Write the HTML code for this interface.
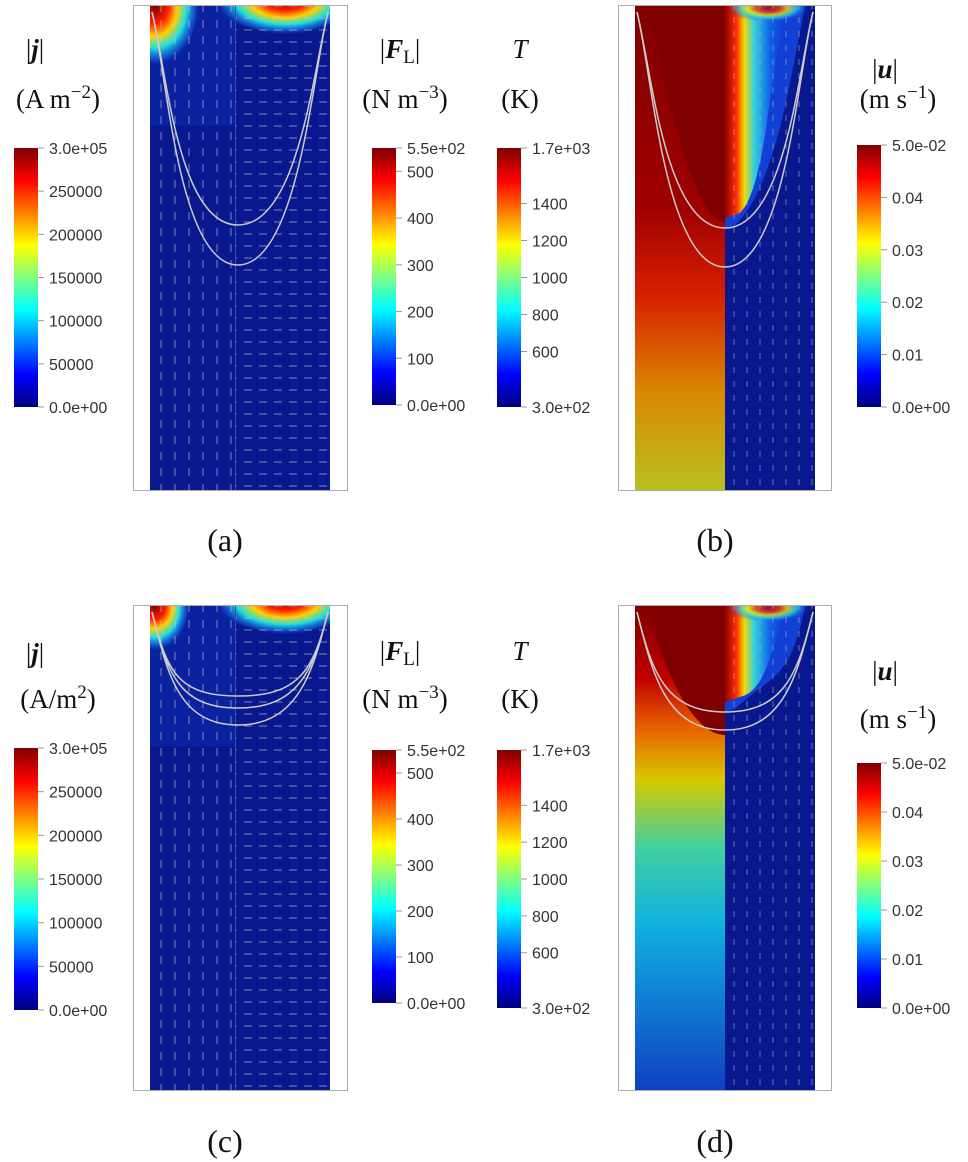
<!DOCTYPE html>
<html><head><meta charset="utf-8"><style>
html,body{margin:0;padding:0;background:#fff;width:968px;height:1162px;overflow:hidden}
svg{display:block}
.tk{font-family:"Liberation Sans",sans-serif;font-size:16px;fill:#333}
.tt{font-family:"Liberation Serif",serif;font-size:27px;fill:#111}
.cap{font-family:"Liberation Serif",serif;font-size:32px;fill:#111}
</style></head><body>
<svg id="fig" width="968" height="1162" viewBox="0 0 968 1162">
<defs>
<linearGradient id="jet" x1="0" y1="1" x2="0" y2="0">
<stop offset="0" stop-color="#00007f"/><stop offset="0.125" stop-color="#0000ff"/><stop offset="0.375" stop-color="#00ffff"/><stop offset="0.625" stop-color="#ffff00"/><stop offset="0.875" stop-color="#ff0000"/><stop offset="1" stop-color="#7f0000"/>
</linearGradient>
<linearGradient id="tb" x1="0" y1="0" x2="0" y2="1">
<stop offset="0" stop-color="#800000"/><stop offset="0.42" stop-color="#a00000"/><stop offset="0.6" stop-color="#d82000"/><stop offset="0.8" stop-color="#d88a00"/><stop offset="1" stop-color="#b8c020"/>
</linearGradient>
<linearGradient id="td" x1="0" y1="0" x2="0" y2="1">
<stop offset="0" stop-color="#800000"/><stop offset="0.15" stop-color="#c00000"/><stop offset="0.25" stop-color="#e86000"/><stop offset="0.36" stop-color="#d8c800"/><stop offset="0.5" stop-color="#40d0a0"/><stop offset="0.66" stop-color="#10b0e0"/><stop offset="1" stop-color="#1040c0"/>
</linearGradient>
<radialGradient id="hot"><stop offset="0" stop-color="#800000"/><stop offset="0.3" stop-color="#ff2000"/><stop offset="0.5" stop-color="#ffd000"/><stop offset="0.7" stop-color="#20e0e0"/><stop offset="0.9" stop-color="#1060e0" stop-opacity="0.6"/><stop offset="1" stop-color="#0a1890" stop-opacity="0"/></radialGradient>
<linearGradient id="velx" x1="0" y1="0" x2="1" y2="0"><stop offset="0" stop-color="#900000"/><stop offset="0.18" stop-color="#ff3000"/><stop offset="0.3" stop-color="#f0e000"/><stop offset="0.45" stop-color="#30d0e0"/><stop offset="0.7" stop-color="#1060e8"/><stop offset="1" stop-color="#1040d0" stop-opacity="0"/></linearGradient>
<radialGradient id="vel"><stop offset="0" stop-color="#a00000"/><stop offset="0.3" stop-color="#ff3000"/><stop offset="0.5" stop-color="#f0e000"/><stop offset="0.7" stop-color="#30d0e0"/><stop offset="1" stop-color="#1050e0" stop-opacity="0"/></radialGradient>
<pattern id="av" width="14" height="16" patternUnits="userSpaceOnUse"><line x1="7" y1="4" x2="7" y2="12" stroke="#ccc" stroke-width="1"/></pattern>
<pattern id="ah" width="15" height="12" patternUnits="userSpaceOnUse"><line x1="4" y1="6" x2="12" y2="6" stroke="#ccc" stroke-width="1"/></pattern>
<pattern id="ad" width="13" height="14" patternUnits="userSpaceOnUse"><line x1="6" y1="3" x2="6" y2="9" stroke="#bbb" stroke-width="1"/></pattern>
<clipPath id="clipL"><rect x="150" y="6" width="180" height="484"/></clipPath>
<clipPath id="clipR"><rect x="635" y="6" width="180" height="484"/></clipPath>
<clipPath id="clipRR"><rect x="725" y="6" width="90" height="484"/></clipPath>
</defs>
<g id="panels"></g>
<g id="bars"></g>
</svg>
<script>
// colorbar tick data
const jTicks = ["3.0e+05","250000","200000","150000","100000","50000","0.0e+00"];
const jVals = [300000,250000,200000,150000,100000,50000,0];
const fTicks = ["5.5e+02","500","400","300","200","100","0.0e+00"];
const fVals = [550,500,400,300,200,100,0];
const tTicks = ["1.7e+03","1400","1200","1000","800","600","3.0e+02"];
const tVals = [1700,1400,1200,1000,800,600,300];
const uTicks = ["5.0e-02","0.04","0.03","0.02","0.01","0.0e+00"];
const uVals = [0.05,0.04,0.03,0.02,0.01,0];

const NS="http://www.w3.org/2000/svg";
const bars=document.getElementById('bars'), panels=document.getElementById('panels');
function mk(tag,attrs,parent){const e=document.createElementNS(NS,tag);for(const k in attrs)e.setAttribute(k,attrs[k]);parent.appendChild(e);return e;}

function colorbar(x,y0,y1,vals,labels,name){
  const g=mk('g',{},bars);
  
  
  const r=mk('rect',{x:x,y:y0,width:24,height:y1-y0,fill:'url(#jet)'},g);
  
  
  const vmin=Math.min(...vals), vmax=Math.max(...vals);
  const sc=v=>y1-(v-vmin)/(vmax-vmin)*(y1-y0);
  vals.forEach((v,i)=>{
    const yy=sc(v);
    mk('line',{x1:x+24,y1:yy,x2:x+30,y2:yy,stroke:'#999','stroke-width':1},g);
    const t=mk('text',{x:x+35,y:yy+6,class:'tk'},g);
    t.textContent=labels[i];
    
    
  });
}
colorbar(14,148,407,jVals,jTicks,'j-colorbar-a');
colorbar(372,148,405,fVals,fTicks,'force-colorbar-b');
colorbar(497,148,407,tVals,tTicks,'temperature-colorbar-b');
colorbar(857,145,407,uVals,uTicks,'velocity-colorbar-b');
colorbar(14,748,1010,jVals,jTicks,'j-colorbar-c');
colorbar(372,750,1003,fVals,fTicks,'force-colorbar-d');
colorbar(497,750,1008,tVals,tTicks,'temperature-colorbar-d');
colorbar(857,763,1008,uVals,uTicks,'velocity-colorbar-d');

function title(x,y,html,name){
  const t=mk('text',{x:x,y:y,class:'tt','text-anchor':'middle'},bars);
  t.innerHTML=html;
  
  
}
title(35,58,'|<tspan font-weight="bold" font-style="italic">j</tspan>|','j-title-a');
title(58,108,'(A m<tspan dy="-10" font-size="19">−2</tspan><tspan dy="10">)</tspan>','j-unit-a');
title(400,58,'|<tspan font-weight="bold" font-style="italic">F</tspan><tspan font-size="19" dy="5">L</tspan><tspan dy="-5">|</tspan>','force-title-b');
title(405,108,'(N m<tspan dy="-10" font-size="19">−3</tspan><tspan dy="10">)</tspan>','force-unit-b');
title(520,58,'<tspan font-style="italic">T</tspan>','temperature-title-b');
title(520,108,'(K)','temperature-unit-b');
title(885,78,'|<tspan font-weight="bold" font-style="italic">u</tspan>|','velocity-title-b');
title(898,108,'(m s<tspan dy="-10" font-size="19">−1</tspan><tspan dy="10">)</tspan>','velocity-unit-b');
title(35,662,'|<tspan font-weight="bold" font-style="italic">j</tspan>|','j-title-c');
title(58,708,'(A/m<tspan dy="-10" font-size="19">2</tspan><tspan dy="10">)</tspan>','j-unit-c');
title(400,660,'|<tspan font-weight="bold" font-style="italic">F</tspan><tspan font-size="19" dy="5">L</tspan><tspan dy="-5">|</tspan>','force-title-d');
title(405,708,'(N m<tspan dy="-10" font-size="19">−3</tspan><tspan dy="10">)</tspan>','force-unit-d');
title(520,660,'<tspan font-style="italic">T</tspan>','temperature-title-d');
title(520,708,'(K)','temperature-unit-d');
title(885,680,'|<tspan font-weight="bold" font-style="italic">u</tspan>|','velocity-title-d');
title(898,728,'(m s<tspan dy="-10" font-size="19">−1</tspan><tspan dy="10">)</tspan>','velocity-unit-d');

function cap(x,y,s,name){const t=mk('text',{x:x,y:y,class:'cap','text-anchor':'middle'},bars);t.textContent=s;

}
cap(225,551,'(a)','caption-a');cap(715,551,'(b)','caption-b');cap(225,1152,'(c)','caption-c');cap(715,1152,'(d)','caption-d');

function contour(g,x0,x1,yTop,yMin,cx){
  return mk('path',{d:`M${x0},${yTop} C${x0+15},${yTop+60} ${cx-60},${yMin} ${cx},${yMin} C${cx+60},${yMin} ${x1-15},${yTop+60} ${x1},${yTop}`,fill:'none',stroke:'#ccc','stroke-width':1.5},g);
}

// panel a/c: current density + Lorentz force
function panelAC(dy,name,mins){
  const g=mk('g',{transform:`translate(0,${dy})`},panels);
  
  
  mk('rect',{x:133.5,y:5.5,width:214,height:485,fill:'#fff',stroke:'#aaa'},g);
  const c=mk('g',{'clip-path':'url(#clipL)'},g);
  mk('rect',{x:150,y:6,width:180,height:484,fill:'#0a1890'},c);
  mk('rect',{x:150,y:6,width:85,height:dy?140:120,fill:'#0c2cb0',opacity:0.5},c);
  mk('ellipse',{cx:155,cy:6,rx:dy?35:45,ry:dy?45:60,fill:'url(#hot)'},c);
  mk('ellipse',{cx:285,cy:0,rx:70,ry:35,fill:'url(#hot)'},c);
  mk('rect',{x:150,y:6,width:85,height:484,fill:'url(#av)',opacity:0.6},c);
  mk('rect',{x:236,y:6,width:94,height:484,fill:'url(#ah)',opacity:0.6},c);
  mk('line',{x1:235.5,y1:6,x2:235.5,y2:490,stroke:'#3a4ab0'},c);
  mins.forEach(m=>contour(g,152,328,12,m,238));
}
panelAC(0,'panel-a',[225,265]);
panelAC(600,'panel-c',[96,108,125]);

// panel b/d: temperature + velocity
function panelBD(dy,name,grad,mins,darkMin){
  const g=mk('g',{transform:`translate(0,${dy})`},panels);
  
  
  mk('rect',{x:618.5,y:5.5,width:213,height:485,fill:'#fff',stroke:'#aaa'},g);
  const c=mk('g',{'clip-path':'url(#clipR)'},g);
  mk('rect',{x:635,y:6,width:90,height:484,fill:grad},c);
  mk('path',{d:`M648,6 C660,60 690,${darkMin} 725,${darkMin} L725,6 Z`,fill:'#800000'},c);
  const r=mk('g',{'clip-path':'url(#clipRR)'},c);
  mk('rect',{x:725,y:6,width:90,height:484,fill:'#0a1890'},r);
  mk('path',{d:`M725,6 L805,6 C790,80 775,${mins[0]-40} 735,${mins[0]-3} L725,${mins[0]} Z`,fill:'#1448e0',opacity:0.85},r);
  mk('path',{d:`M725,6 L790,6 C770,40 770,${mins[0]*0.8} 740,${mins[0]-15} L725,${mins[0]-10} Z`,fill:'url(#velx)'},r);
  mk('ellipse',{cx:768,cy:8,rx:40,ry:14,fill:'url(#vel)',opacity:0.8},r);
  mk('rect',{x:725,y:6,width:90,height:484,fill:'url(#ad)',opacity:0.55},r);
  mins.forEach(m=>contour(g,637,813,12,m,725));
}
panelBD(0,'panel-b','url(#tb)',[228,267],222);
panelBD(600,'panel-d','url(#td)',[112,130],135);
</script>
</body></html>
